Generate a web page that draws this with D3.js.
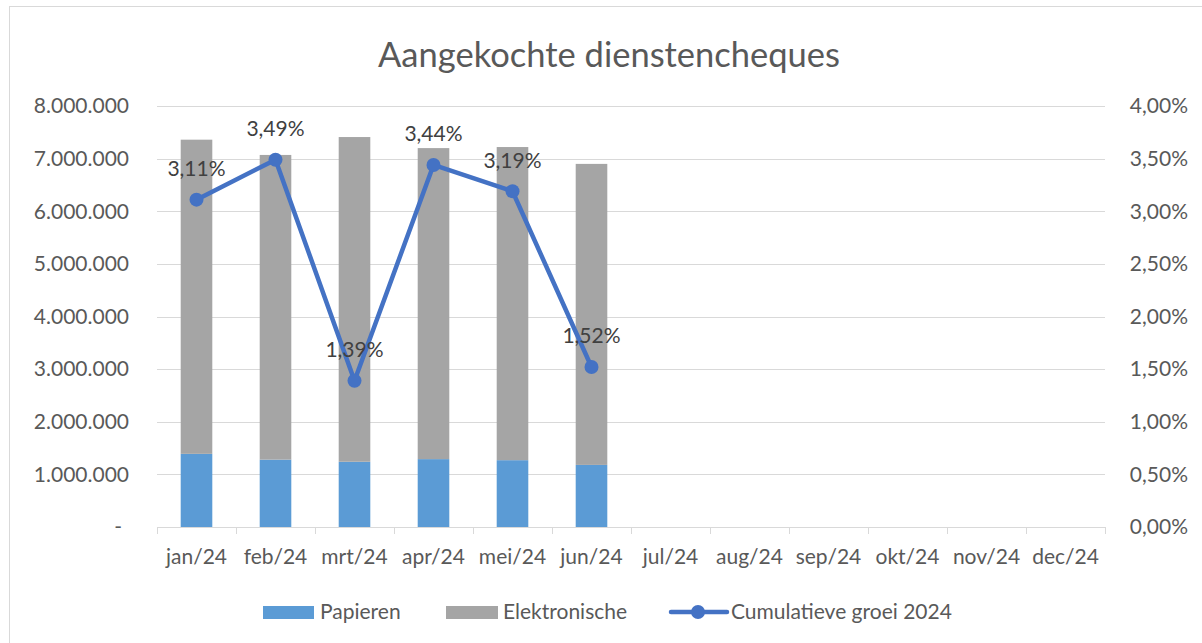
<!DOCTYPE html>
<html>
<head>
<meta charset="utf-8">
<script src="https://cdn.jsdelivr.net/npm/d3@7"></script>
<style>
  body { margin: 0; background: #fff; }
  text { font-family: Lato, "Open Sans", sans-serif; fill: #595959; }
</style>
</head>
<body>
<script>
/* Aangekochte dienstencheques */

var months = ["jan/24","feb/24","mrt/24","apr/24","mei/24","jun/24","jul/24","aug/24","sep/24","okt/24","nov/24","dec/24"];
var papieren = [1390000, 1280000, 1240000, 1290000, 1270000, 1180000];
var elektronische = [5970000, 5790000, 6170000, 5910000, 5950000, 5720000];
var groei = [3.11, 3.49, 1.39, 3.44, 3.19, 1.52];
var leftTicks = [0, 1000000, 2000000, 3000000, 4000000, 5000000, 6000000, 7000000, 8000000];
var rightTicks = [0, 0.5, 1, 1.5, 2, 2.5, 3, 3.5, 4];

var W = 1202, H = 643;
var svg = d3.select("body").append("svg")
    .attr("width", W)
    .attr("height", H);

svg.append("rect")
    .attr("x", 9.5).attr("y", 6.5)
    .attr("width", 1200).attr("height", 640)
    .attr("fill", "#fff")
    .attr("stroke", "#d9d9d9");

var pLeft = 157, pRight = 1105, pTop = 106, pBottom = 527;

var x = d3.scaleBand().domain(months).range([pLeft, pRight]).paddingInner(0.6).paddingOuter(0.3);
var xc = d3.scaleBand().domain(months).range([pLeft, pRight]);
var y = d3.scaleLinear().domain([0, 8000000]).range([pBottom, pTop]);
var y2 = d3.scaleLinear().domain([0, 4]).range([pBottom, pTop]);

var nl = d3.formatLocale({decimal: ",", thousands: ".", grouping: [3], currency: ["€", ""]});
var fmtL = function(d) { return d === 0 ? "-" : nl.format(",.0f")(d); };
var fmtR = function(d) { return nl.format(".2f")(d) + "%"; };

// gridlines
svg.append("g").selectAll("line")
    .data(leftTicks.slice(1))
    .enter().append("line")
    .attr("x1", pLeft).attr("x2", pRight)
    .attr("y1", function(d) { return Math.round(y(d)) + 0.5; })
    .attr("y2", function(d) { return Math.round(y(d)) + 0.5; })
    .attr("stroke", "#d9d9d9")
    .attr("stroke-width", 1);

// left axis labels
svg.append("g").selectAll("text")
    .data(leftTicks)
    .enter().append("text")
    .attr("x", function(d) { return d === 0 ? 122 : 129; })
    .attr("y", function(d) { return y(d); })
    .attr("dy", "0.35em")
    .attr("text-anchor", "end")
    .style("font-size", "21px")
    .text(fmtL);

// right axis labels
svg.append("g").selectAll("text")
    .data(rightTicks)
    .enter().append("text")
    .attr("x", 1188)
    .attr("y", function(d) { return y2(d); })
    .attr("dy", "0.35em")
    .attr("text-anchor", "end")
    .style("font-size", "21px")
    .text(fmtR);

// stacked bars
var stack = months.slice(0, papieren.length).map(function(m, i) {
    return { m: m, p: papieren[i], e: elektronische[i] };
});
var bars = svg.append("g");
bars.selectAll("rect.p")
    .data(stack)
    .enter().append("rect")
    .attr("class", "p")
    .attr("x", function(d) { return x(d.m); })
    .attr("width", x.bandwidth())
    .attr("y", function(d) { return y(d.p); })
    .attr("height", function(d) { return y(0) - y(d.p); })
    .attr("fill", "#5b9bd5");
bars.selectAll("rect.e")
    .data(stack)
    .enter().append("rect")
    .attr("class", "e")
    .attr("x", function(d) { return x(d.m); })
    .attr("width", x.bandwidth())
    .attr("y", function(d) { return y(d.p + d.e); })
    .attr("height", function(d) { return y(d.p) - y(d.p + d.e); })
    .attr("fill", "#a5a5a5");

// x axis
var xa = svg.append("g");
xa.append("line")
    .attr("x1", pLeft).attr("x2", pRight)
    .attr("y1", pBottom + 0.5).attr("y2", pBottom + 0.5)
    .attr("stroke", "#d9d9d9");
xa.selectAll("line.tick")
    .data(months.concat(["end"]))
    .enter().append("line")
    .attr("class", "tick")
    .attr("x1", function(d, i) { return Math.round(pLeft + i * xc.step()) + 0.5; })
    .attr("x2", function(d, i) { return Math.round(pLeft + i * xc.step()) + 0.5; })
    .attr("y1", pBottom).attr("y2", pBottom + 7)
    .attr("stroke", "#d9d9d9");
xa.selectAll("text")
    .data(months)
    .enter().append("text")
    .attr("x", function(d) { return xc(d) + xc.bandwidth() / 2; })
    .attr("y", 557)
    .attr("dy", "0.35em")
    .attr("text-anchor", "middle")
    .style("font-size", "21px")
    .text(function(d) { return d; });

// line series
var pts = groei.map(function(v, i) { return { m: months[i], v: v }; });
var line = d3.line()
    .x(function(d) { return xc(d.m) + xc.bandwidth() / 2; })
    .y(function(d) { return y2(d.v); });
svg.append("path")
    .datum(pts)
    .attr("d", line)
    .attr("fill", "none")
    .attr("stroke", "#4472c4")
    .attr("stroke-width", 4.5)
    .attr("stroke-linejoin", "round");
svg.append("g").selectAll("circle")
    .data(pts)
    .enter().append("circle")
    .attr("cx", function(d) { return xc(d.m) + xc.bandwidth() / 2; })
    .attr("cy", function(d) { return y2(d.v); })
    .attr("r", 7)
    .attr("fill", "#4472c4");
svg.append("g").selectAll("text")
    .data(pts)
    .enter().append("text")
    .attr("x", function(d) { return xc(d.m) + xc.bandwidth() / 2; })
    .attr("y", function(d) { return y2(d.v) - 31; })
    .attr("dy", "0.35em")
    .attr("text-anchor", "middle")
    .style("font-size", "21px")
    .style("fill", "#404040")
    .text(function(d) { return fmtR(d.v); });

// title
svg.append("text")
    .attr("x", 609)
    .attr("y", 67)
    .attr("text-anchor", "middle")
    .style("font-size", "34.5px")
    .text("Aangekochte dienstencheques");

// legend
var lg = svg.append("g");
lg.append("rect").attr("x", 263).attr("y", 606).attr("width", 51).attr("height", 13).attr("fill", "#5b9bd5");
lg.append("text").attr("x", 320).attr("y", 612).attr("dy", "0.35em").style("font-size", "21px").text("Papieren");
lg.append("rect").attr("x", 446).attr("y", 606).attr("width", 52).attr("height", 13).attr("fill", "#a5a5a5");
lg.append("text").attr("x", 503).attr("y", 612).attr("dy", "0.35em").style("font-size", "21px").text("Elektronische");
lg.append("line").attr("x1", 671).attr("x2", 727).attr("y1", 612).attr("y2", 612)
    .attr("stroke", "#4472c4").attr("stroke-width", 4.5).attr("stroke-linecap", "round");
lg.append("circle").attr("cx", 698).attr("cy", 612).attr("r", 7).attr("fill", "#4472c4");
lg.append("text").attr("x", 731).attr("y", 612).attr("dy", "0.35em").style("font-size", "21px").text("Cumulatieve groei 2024");
</script>
</body>
</html>
